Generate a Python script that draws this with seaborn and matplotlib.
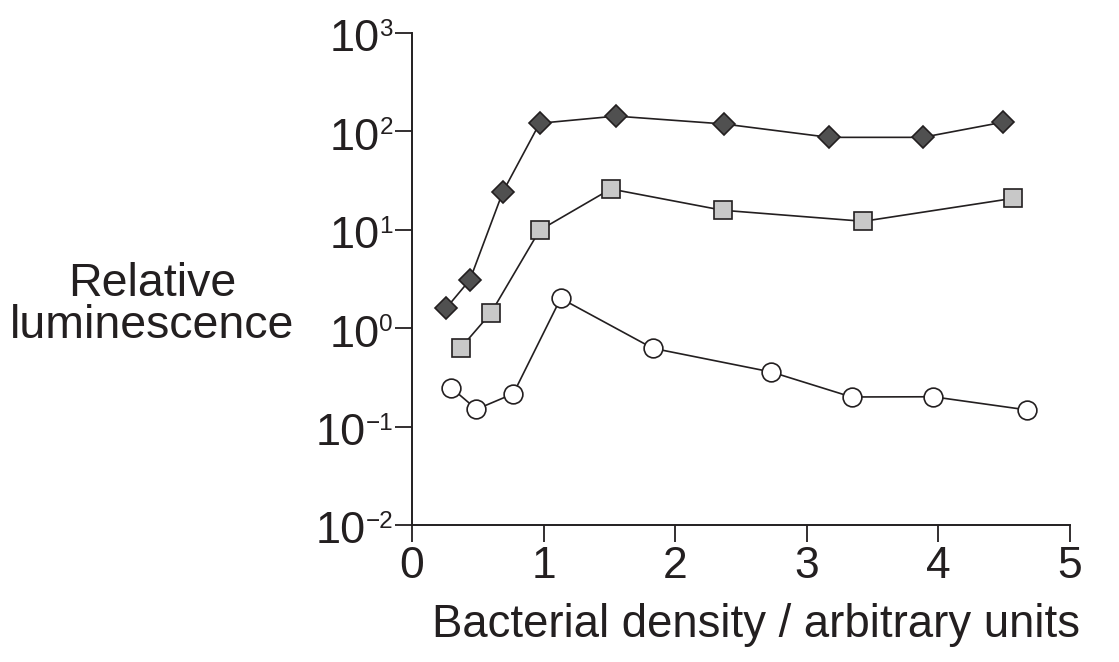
import matplotlib
matplotlib.use("Agg")
import matplotlib.pyplot as plt
from matplotlib.ticker import NullLocator
import seaborn as sns

# values
diamond_x = [0.26, 0.44, 0.69, 0.97, 1.55, 2.37, 3.17, 3.88, 4.49]
diamond_y = [1.6, 3.1, 24.2, 121, 143, 119, 87, 87, 124]

square_x = [0.37, 0.60, 0.97, 1.51, 2.36, 3.43, 4.57]
square_y = [0.63, 1.43, 9.9, 26, 15.8, 12.2, 20.9]

circle_x = [0.30, 0.49, 0.77, 1.13, 1.83, 2.73, 3.34, 3.96, 4.67]
circle_y = [0.247, 0.15, 0.216, 2.01, 0.625, 0.359, 0.20, 0.201, 0.148]

x_ticks = [0, 1, 2, 3, 4, 5]
y_exponents = [-2, -1, 0, 1, 2, 3]

ink = "#231f20"

sns.set_style("ticks")
plt.rcParams["font.family"] = ["Liberation Sans", "DejaVu Sans"]

fig = plt.figure(figsize=(11.19, 6.62), dpi=100)
ax = fig.add_axes([412 / 1119, 1 - 525 / 662, 658 / 1119, 492 / 662])

common = dict(color=ink, linewidth=1.2, markeredgecolor=ink, markeredgewidth=1.2,
              ax=ax, legend=False)
sns.lineplot(x=circle_x, y=circle_y, marker="o", markersize=13.5,
             markerfacecolor="white", **common)
sns.lineplot(x=square_x, y=square_y, marker="s", markersize=13,
             markerfacecolor="#c8c8c8", **common)
sns.lineplot(x=diamond_x, y=diamond_y, marker="D", markersize=10.8,
             markerfacecolor="#505050", **common)

ax.set_yscale("log")
ax.set_xlim(0, 5)
ax.set_ylim(1e-2, 1e3)
ax.set_xticks(x_ticks)
ax.set_xticklabels([str(t) for t in x_ticks], fontsize=32)
ax.set_yticks([10.0 ** k for k in y_exponents])
ax.set_yticklabels([])
ax.yaxis.set_minor_locator(NullLocator())
ax.tick_params(axis="both", length=12.2, width=1.3, color=ink)
ax.tick_params(axis="x", pad=3, labelcolor=ink)

for side in ["top", "right"]:
    ax.spines[side].set_visible(False)
for side in ["left", "bottom"]:
    ax.spines[side].set_linewidth(1.4)
    ax.spines[side].set_color(ink)

# y tick labels as "10" with a small superscript exponent
for k in y_exponents:
    sup = ax.annotate(str(k).replace("-", "\u2212"), xy=(0, 10.0 ** k),
                      xycoords=ax.get_yaxis_transform(),
                      xytext=(-19, -3), textcoords="offset pixels",
                      ha="right", va="baseline", fontsize=17.5, color=ink)
    ax.annotate("10", xy=(0, 10.0 ** k),
                xycoords=(sup, ax.get_yaxis_transform()),
                xytext=(0, -18.4), textcoords="offset pixels",
                ha="right", va="baseline", fontsize=32.5, color=ink)

ax.set_xlabel("Bacterial density / arbitrary units", fontsize=32.8, color=ink)
ax.xaxis.label.set_va("baseline")
ax.xaxis.set_label_coords(0.523, -0.227)

ax.set_ylabel("Relative\nluminescence", fontsize=33.5, color=ink, rotation=0,
              ha="center", va="baseline", linespacing=0.95)
ax.yaxis.set_label_coords(-0.395, 0.377)

fig.savefig("out.png", dpi=100)
